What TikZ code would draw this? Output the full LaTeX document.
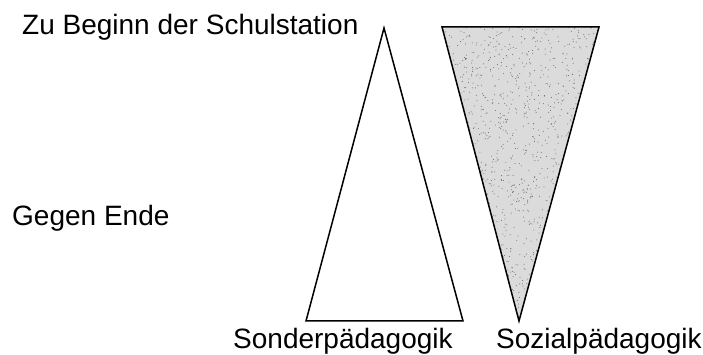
\documentclass[tikz,border=0pt]{standalone}
\usepackage{fontspec}
\setmainfont{Liberation Sans}
\begin{document}
\begin{tikzpicture}[x=1pt,y=1pt,
  lbl/.style={anchor=base west,inner sep=0pt,font=\fontsize{28}{31}\selectfont},
  tri/.style={draw=black,line width=1.5pt,line join=miter}]
\useasboundingbox (0,0) rectangle (703,355);
% label texts
\node[lbl] (beginn) at (22,320) {Zu Beginn der Schulstation};
\node[lbl] (ende) at (12,129) {Gegen Ende};
\node[lbl] (sonder) at (233,6.5) {Sonderpädagogik};
\node[lbl] (sozial) at (496,6.5) {Sozialpädagogik};
% white triangle
\coordinate (wa) at (384,327);
\coordinate (wl) at (306,34);
\coordinate (wr) at (463,34);
\draw[tri,fill=white] (wa) -- (wr) -- (wl) -- cycle;
% grey stippled triangle
\coordinate (gl) at (442,328);
\coordinate (gr) at (599,328);
\coordinate (ga) at (519,34);
\fill[black!14] (gl) -- (gr) -- (ga) -- cycle;
\begin{scope}
  \clip (gl) -- (gr) -- (ga) -- cycle;
  \pgfmathsetseed{7}
  \foreach \k in {1,...,1400}{
    \pgfmathsetmacro{\px}{442+157*rnd}
    \pgfmathsetmacro{\py}{34+294*rnd}
    \fill[black!60] (\px,\py) circle (0.5);
  }
\end{scope}
\draw[tri] (gl) -- (gr) -- (ga) -- cycle;
\end{tikzpicture}
\end{document}
